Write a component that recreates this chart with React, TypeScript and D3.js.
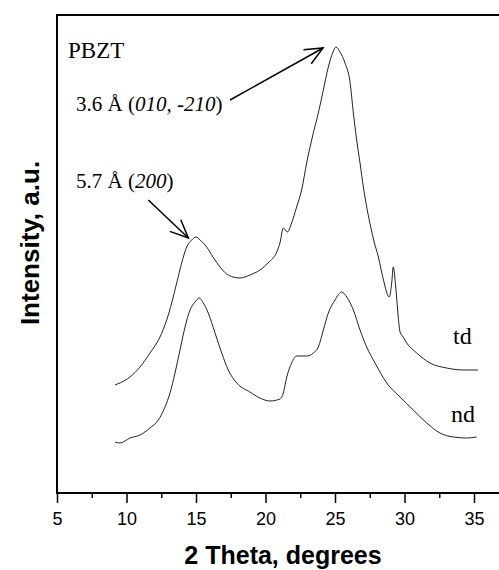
import React, { useEffect, useRef } from 'react';
import * as d3 from 'd3';

// 2-theta (degrees) readings, shared layout per curve
const tdTheta = [9.17, 9.53, 10.25, 10.97, 11.69, 12.41, 12.89, 13.25, 13.61, 13.97, 14.33, 14.69, 15.0, 15.29, 15.77, 16.22, 16.73, 17.21, 17.66, 18.17, 18.88, 19.6, 20.18, 20.81, 21.04, 21.28, 21.57, 21.88, 22.24, 22.6, 22.96, 23.44, 23.8, 24.16, 24.52, 24.83, 25.07, 25.36, 25.72, 26.08, 26.32, 26.56, 26.8, 27.04, 27.32, 27.57, 27.8, 28.12, 28.47, 28.9, 29.08, 29.19, 29.37, 29.55, 29.68, 29.91, 30.16, 30.88, 31.83, 33.04, 34.23, 35.29];
const tdIntensity = [108, 110, 116, 126, 140, 156, 173, 190, 210, 230, 246, 253, 256, 253, 246, 236, 226, 219, 216, 215, 218, 223, 230, 241, 250, 265, 261, 270, 286, 303, 330, 360, 380, 403, 426, 440, 446, 441, 430, 411, 380, 353, 330, 306, 283, 266, 252, 236, 214, 196, 210, 226, 206, 176, 161, 156, 150, 140, 130, 125, 123, 123];

const ndTheta = [9.17, 9.53, 10.25, 10.97, 11.69, 12.29, 12.77, 13.13, 13.49, 13.85, 14.21, 14.57, 14.93, 15.24, 15.53, 15.88, 16.37, 16.85, 17.32, 17.93, 18.88, 19.6, 20.32, 21.04, 21.28, 21.53, 21.88, 22.24, 22.96, 23.44, 23.8, 24.16, 24.52, 25.0, 25.48, 25.84, 26.32, 26.8, 27.28, 27.88, 28.72, 29.68, 30.63, 31.6, 32.55, 33.51, 34.47, 35.19];
const ndIntensity = [51, 50, 55, 58, 65, 73, 86, 100, 120, 143, 166, 183, 191, 195, 190, 180, 160, 140, 123, 110, 101, 95, 92, 94, 100, 116, 130, 137, 137, 140, 146, 163, 180, 193, 201, 196, 183, 163, 146, 130, 110, 96, 83, 70, 60, 56, 55, 56];

const majorTicks = [5, 10, 15, 20, 25, 30, 35];
const minorTicks = [7.5, 12.5, 17.5, 22.5, 27.5, 32.5, 37.5];

// arrows: [fromTheta, fromIntensity, toTheta, toIntensity]
const arrows = [
  [17.45, 393, 24.14, 445],
  [11.57, 293, 14.45, 255]
];

const W = 499, H = 570;

const App = () => {
  const ref = useRef<SVGSVGElement>(null);

  useEffect(() => {
    const svg = d3.select(ref.current);
    svg.selectAll('*').remove();

    const p = { top: 15, left: 57, bottom: 493 };

    const x = d3.scaleLinear().domain([5, 40]).range([p.left, p.left + 35 * 13.9]);
    const y = d3.scaleLinear().domain([0, 478]).range([p.bottom, p.top]);

    const defs = svg.append('defs');
    defs.append('marker')
      .attr('id', 'arrowHead')
      .attr('markerUnits', 'userSpaceOnUse')
      .attr('viewBox', '-1 -10 22 20')
      .attr('markerWidth', 22)
      .attr('markerHeight', 20)
      .attr('refX', 18)
      .attr('refY', 0)
      .attr('orient', 'auto')
      .append('path')
      .attr('d', 'M0,-8L18,0L0,8')
      .attr('fill', 'none')
      .attr('stroke', '#000')
      .attr('stroke-width', 1.5);

    // frame (right side runs off the picture)
    svg.append('rect')
      .attr('x', p.left)
      .attr('y', p.top)
      .attr('width', x(40) - p.left)
      .attr('height', p.bottom - p.top)
      .attr('fill', 'none')
      .attr('stroke', '#000')
      .attr('stroke-width', 2);

    const gx = svg.append('g')
      .attr('transform', `translate(0,${p.bottom})`)
      .call(d3.axisBottom(x).tickValues(majorTicks).tickSize(10).tickSizeOuter(0).tickPadding(9).tickFormat(d3.format('d')));
    gx.select('.domain').remove();
    gx.selectAll('line').attr('stroke-width', 1.5);
    gx.selectAll('text')
      .attr('font-family', 'Liberation Sans, Arial, sans-serif')
      .attr('font-size', 18)
      .attr('fill', '#000');

    const gm = svg.append('g')
      .attr('transform', `translate(0,${p.bottom})`)
      .call(d3.axisBottom(x).tickValues(minorTicks).tickSize(5).tickSizeOuter(0).tickFormat(() => ''));
    gm.select('.domain').remove();
    gm.selectAll('line').attr('stroke-width', 1.5);

    const line = d3.line<number[]>()
      .x(d => x(d[0]))
      .y(d => y(d[1]))
      .curve(d3.curveMonotoneX);

    const series = [
      d3.zip(tdTheta, tdIntensity),
      d3.zip(ndTheta, ndIntensity)
    ];

    svg.selectAll('path.curve')
      .data(series)
      .enter()
      .append('path')
      .attr('class', 'curve')
      .attr('d', d => line(d))
      .attr('fill', 'none')
      .attr('stroke', '#222')
      .attr('stroke-width', 1);

    svg.selectAll('line.arrow')
      .data(arrows)
      .enter()
      .append('line')
      .attr('class', 'arrow')
      .attr('x1', d => x(d[0]))
      .attr('y1', d => y(d[1]))
      .attr('x2', d => x(d[2]))
      .attr('y2', d => y(d[3]))
      .attr('stroke', '#000')
      .attr('stroke-width', 1.5)
      .attr('marker-end', 'url(#arrowHead)');

    const serif = 'Liberation Serif, Times New Roman, serif';

    svg.append('text')
      .attr('x', 68).attr('y', 58)
      .attr('font-family', serif).attr('font-size', 23)
      .text('PBZT');

    const t1 = svg.append('text')
      .attr('x', 76).attr('y', 111)
      .attr('font-family', serif).attr('font-size', 21);
    t1.append('tspan').text('3.6 Å (');
    t1.append('tspan').attr('font-style', 'italic').text('010, -210');
    t1.append('tspan').text(')');

    const t2 = svg.append('text')
      .attr('x', 76).attr('y', 188)
      .attr('font-family', serif).attr('font-size', 21);
    t2.append('tspan').text('5.7 Å (');
    t2.append('tspan').attr('font-style', 'italic').text('200');
    t2.append('tspan').text(')');

    svg.append('text')
      .attr('x', 453).attr('y', 344)
      .attr('font-family', serif).attr('font-size', 24)
      .text('td');

    svg.append('text')
      .attr('x', 451).attr('y', 422)
      .attr('font-family', serif).attr('font-size', 24)
      .text('nd');

    // axis titles
    svg.append('text')
      .attr('x', 283).attr('y', 564)
      .attr('text-anchor', 'middle')
      .attr('font-family', 'Liberation Sans, Arial, sans-serif')
      .attr('font-weight', 'bold')
      .attr('font-size', 25)
      .text('2 Theta, degrees');

    svg.append('text')
      .attr('transform', 'translate(39,243) rotate(-90)')
      .attr('text-anchor', 'middle')
      .attr('font-family', 'Liberation Sans, Arial, sans-serif')
      .attr('font-weight', 'bold')
      .attr('font-size', 26)
      .text('Intensity, a.u.');
  }, []);

  return (
    <svg ref={ref} width={W} height={H}
         style={{ position: 'absolute', left: 0, top: 0, background: '#fff' }} />
  );
};

export default App;
